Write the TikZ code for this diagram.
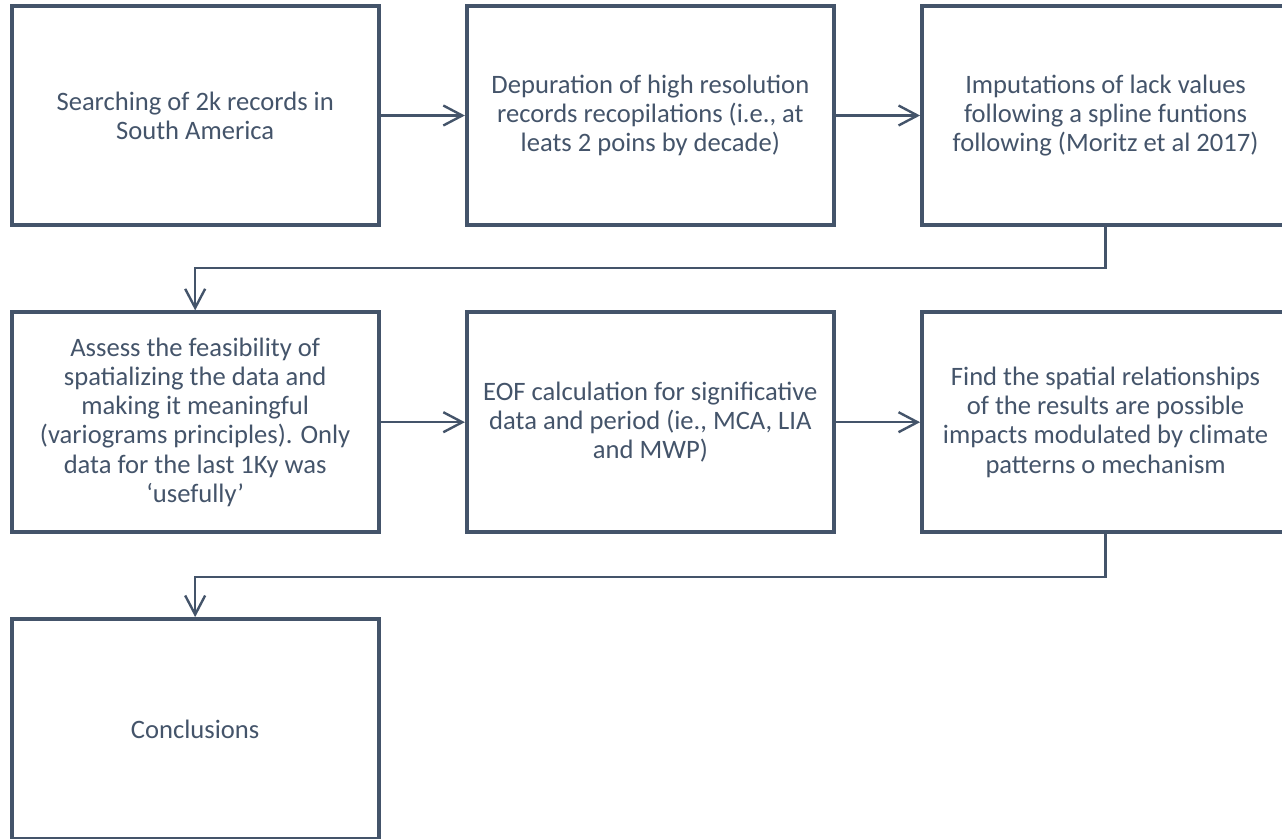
\documentclass[tikz,border=0pt]{standalone}
\usepackage{fontspec}
\setmainfont{Carlito}
\usetikzlibrary{arrows.meta}
\definecolor{slate}{HTML}{44546A}

\begin{document}
\begin{tikzpicture}
      \tikzstyle{pnode} = [draw=slate, line width=2pt, rectangle, minimum width=6.45cm, minimum height=3.86cm, inner sep=2pt, align=center, text=slate, font=\fontsize{13.3}{14.6}\selectfont]
      \tikzstyle{flow} = [draw=slate, line width=1.2pt, -{Straight Barb[length=9.5pt, width=10pt, line width=1.2pt]}]

      \useasboundingbox (0,0) rectangle (22.53,-14.73);
      \clip (0,0) rectangle (22.53,-14.73);

      %%%%%%%%%%%%%%%%%%%%%%%%%%%%%%
      %% First row of steps
      %%%%%%%%%%%%%%%%%%%%%%%%%%%%%%
      \node[pnode] (s1) at (3.43,-2.03) {Searching of 2k records in\\ South America};
      \node[pnode] (s2) at (11.43,-2.03) {Depuration of high resolution\\ records recopilations (i.e., at\\ leats 2 poins by decade)};
      \node[pnode] (s3) at (19.43,-2.03) {Imputations of lack values\\ following a spline funtions\\ following (Moritz et al 2017)};

      %%%%%%%%%%%%%%%%%%%%%%%%%%%%%%
      %% Second row of steps
      %%%%%%%%%%%%%%%%%%%%%%%%%%%%%%
      \node[pnode] (s4) at (3.43,-7.42) {Assess the feasibility of\\ spatializing the data and\\ making it meaningful\\ (variograms principles). Only\\ data for the last 1Ky was\\ `usefully'};
      \node[pnode] (s5) at (11.43,-7.42) {EOF calculation for significative\\ data and period (ie., MCA, LIA\\ and MWP)};
      \node[pnode] (s6) at (19.43,-7.42) {Find the spatial relationships\\ of the results are possible\\ impacts modulated by climate\\ patterns o mechanism};

      %%%%%%%%%%%%%%%%%%%%%%%%%%%%%%
      %% Last step
      %%%%%%%%%%%%%%%%%%%%%%%%%%%%%%
      \node[pnode] (s7) at (3.43,-12.81) {Conclusions};

      % edges along the rows
      \draw[flow] (s1.east) -- (s2.west);
      \draw[flow] (s2.east) -- (s3.west);

      \draw[flow] (s4.east) -- (s5.west);
      \draw[flow] (s5.east) -- (s6.west);

      % edges between the rows
      \draw[flow] (s3.south) -- ++(0,-0.72) -| (s4.north);
      \draw[flow] (s6.south) -- ++(0,-0.75) -| (s7.north);

    \end{tikzpicture}
\end{document}
